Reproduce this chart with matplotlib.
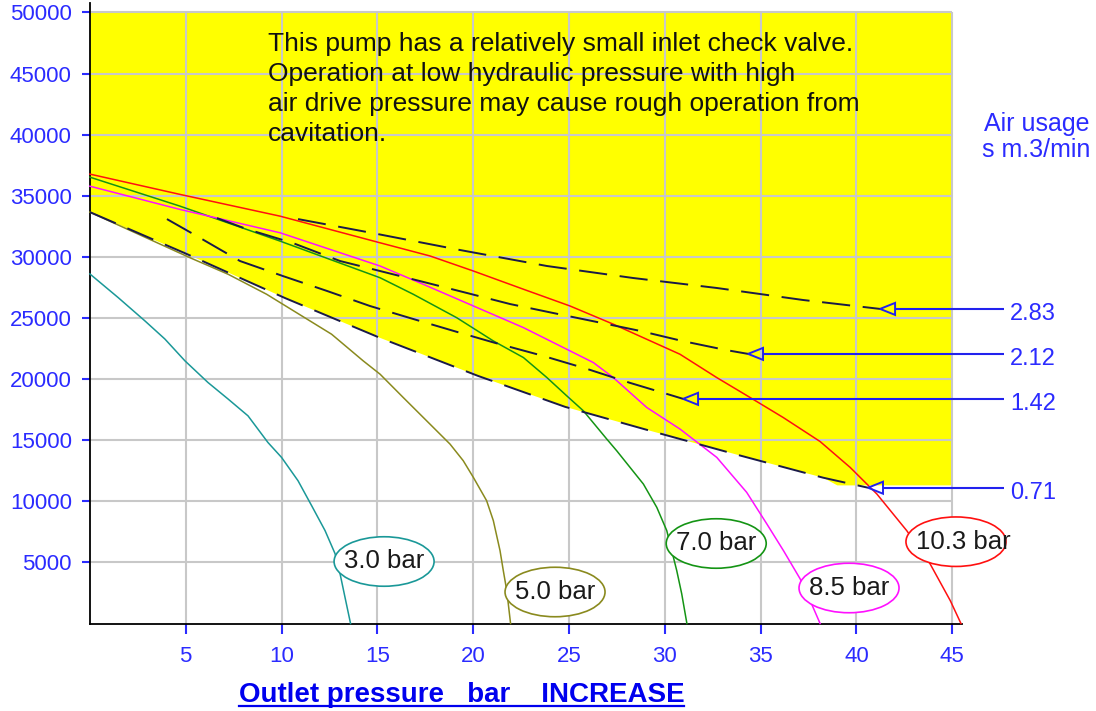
import matplotlib
matplotlib.use("Agg")
import matplotlib.pyplot as plt
from matplotlib.patches import Ellipse, Polygon
from matplotlib.lines import Line2D

plt.rcParams['font.family'] = ['Liberation Sans', 'DejaVu Sans']

# ---------------- data ----------------
x_ticks = [5, 10, 15, 20, 25, 30, 35, 40, 45]
y_ticks = [5000, 10000, 15000, 20000, 25000, 30000, 35000, 40000, 45000, 50000]

# pump curves: outlet pressure (bar) vs flow, for air drive pressures
p30_x = [0, 1.48, 2.87, 3.91, 4.96, 6.16, 7.20, 8.25, 9.29, 10.00, 10.86, 11.57, 12.27, 12.79, 13.05, 13.31, 13.6]
p30_y = [28600, 26660, 24760, 23280, 21490, 19720, 18380, 16990, 14810, 13590, 11680, 9640, 7600, 5720, 4090, 2150, 0]

p50_x = [0, 5.22, 7.22, 9.22, 12.61, 14.26, 15.14, 16.35, 17.92, 18.79, 19.48, 20.01, 20.70, 21.05, 21.40, 21.57, 21.75, 21.95]
p50_y = [33660, 29930, 28570, 26940, 23670, 21490, 20400, 18490, 16040, 14680, 13320, 11950, 10050, 8420, 5960, 4330, 2700, 0]

p70_x = [0, 4.70, 9.92, 15.14, 16.87, 19.14, 21.05, 22.62, 23.84, 24.88, 25.75, 26.97, 27.49, 28.88, 29.58, 30.10, 30.36, 30.62, 30.88, 31.15]
p70_y = [36520, 34150, 31290, 28290, 26940, 25020, 23120, 21760, 20130, 18630, 17400, 15090, 14130, 11410, 9500, 7600, 5960, 4330, 2430, 0]

p85_x = [0, 4.70, 9.92, 15.14, 17.40, 20.01, 22.62, 24.88, 26.27, 27.31, 29.06, 30.79, 32.71, 34.27, 35.32, 36.19, 37.06, 37.58, 38.1]
p85_y = [35780, 33880, 31970, 29250, 27750, 25980, 24210, 22440, 21350, 20120, 17670, 15910, 13590, 10730, 8150, 5960, 3650, 1880, 0]

p103_x = [0, 4.70, 9.92, 15.14, 17.75, 20.01, 22.62, 25.05, 27.31, 30.79, 32.71, 34.45, 36.18, 38.10, 39.67, 41.06, 42.62, 43.84, 44.89, 45.45]
p103_y = [36770, 35110, 33330, 31150, 30070, 28840, 27350, 25980, 24490, 22030, 20120, 18490, 16850, 14890, 12770, 10600, 7600, 4880, 1880, 0]

curve_labels = ['3.0 bar', '5.0 bar', '7.0 bar', '8.5 bar', '10.3 bar']

# air usage contours (s m3/min)
air_labels = ['2.83', '2.12', '1.42', '0.71']
air283_x = [10.86, 14.77, 19.31, 23.85, 28.34, 32.72, 37.21, 41.23]
air283_y = [33090, 31940, 30560, 29250, 28270, 27450, 26470, 25740]
air212_x = [6.63, 8.19, 10.59, 13.05, 15.14, 17.22, 19.68, 21.92, 24.16, 26.46, 28.71, 30.90, 33.14, 34.34]
air212_y = [33170, 32270, 31130, 29660, 28840, 28020, 27040, 26140, 25410, 24670, 23940, 23120, 22390, 22060]
air142_x = [4.02, 5.58, 7.83, 10.07, 12.37, 14.61, 16.86, 19.15, 21.14, 23.64, 25.94, 28.18, 30.43, 30.95]
air142_y = [33090, 31700, 29660, 28430, 27210, 25980, 24920, 23860, 22960, 21900, 20830, 19690, 18630, 18380]
air071_x = [0, 5.06, 10.18, 15.14, 20.25, 24.79, 29.23, 33.77, 38.26, 40.6]
air071_y = [33660, 30230, 26630, 23370, 20260, 17730, 15770, 13810, 11930, 11110]

# cavitation-risk (yellow) zone: lower boundary
zone_x = [0, 5.06, 10.18, 15.14, 20.25, 24.79, 29.23, 33.77, 38.26, 39.0, 45]
zone_y = [33660, 30230, 26630, 23370, 20260, 17730, 15770, 13810, 11930, 11300, 11300]

note_lines = ["This pump has a relatively small inlet check valve.",
              "Operation at low hydraulic pressure with high",
              "air drive pressure may cause rough operation from",
              "cavitation."]

# ---------------- layout ----------------
W, H = 1096, 711
PX_X = 19.165          # px per bar
fig = plt.figure(figsize=(W / 100, H / 100), dpi=100)
ax = fig.add_axes([89.9 / W, (H - 623.5) / H, 45.5 * PX_X / W, 620.5 / H])
ax.set_xlim(0, 45.5)
ax.set_ylim(0, 50770)
ax.set_facecolor('white')

# yellow zone
poly_x = zone_x + [45, 0]
poly_y = zone_y + [50000, 50000]
ax.fill(poly_x, poly_y, color='#ffff00', lw=0, zorder=1)

# grid
ax.vlines(x_ticks, 0, 50000, color='#c8c8c8', lw=1.5, zorder=1.5)
ax.hlines(y_ticks, 0, 45, color='#c8c8c8', lw=1.5, zorder=1.5)

# pump curves
curves = [(p30_x, p30_y, '#1a9898'), (p50_x, p50_y, '#8a8a1e'),
          (p70_x, p70_y, '#149414'), (p85_x, p85_y, '#ff10ff'),
          (p103_x, p103_y, '#ff1010')]
for cx, cy, col in curves:
    ax.plot(cx, cy, color=col, lw=1.1, zorder=3, clip_on=False)

# air usage contours
contours = [(air283_x, air283_y), (air212_x, air212_y), (air142_x, air142_y), (air071_x, air071_y)]
for (cx, cy), lab in zip(contours, air_labels):
    ax.plot(cx, cy, color='#1a1a48', lw=1.4, dashes=(14.5, 6.5), zorder=3.5)
    tx, ty = cx[-1], cy[-1]
    bw = 15 / PX_X
    bh = 6 * 81.82
    tri = Polygon([[tx, ty], [tx + bw, ty + bh], [tx + bw, ty - bh]], closed=True,
                  fc='none', ec='#2222ee', lw=1.4, zorder=4, clip_on=False)
    ax.add_patch(tri)
    ax.plot([tx + bw, (1004 - 89.9) / PX_X], [ty, ty], color='#2222ee', lw=1.5,
            zorder=4, clip_on=False, solid_capstyle='butt')
    ax.text((1010 - 89.9) / PX_X, ty - 11 * 81.82, lab, color='#2b2bff', fontsize=17,
            ha='left', va='baseline', clip_on=False)

# curve labels in ellipses
ell_cx = [15.35, 24.27, 32.68, 39.61, 45.19]
ell_cy = [5073, 2577, 6546, 2905, 6693]
ell_w = 100 / PX_X
ell_h = 49.5 * 81.82
for (cx, cy, col), lab, ex, ey in zip(curves, curve_labels, ell_cx, ell_cy):
    e = Ellipse((ex, ey), ell_w, ell_h, fc='white', ec=col, lw=1.2, zorder=5, clip_on=False)
    ax.add_patch(e)
    ax.text(ex - ell_w / 2 + 10 / PX_X, ey, lab, fontsize=18.5, color='#1a1a1a',
            ha='left', va='center', zorder=6, clip_on=False)

# axes styling
ax.set_xticks(x_ticks)
ax.set_yticks(y_ticks)
ax.set_xticklabels([str(v) for v in x_ticks])
ax.set_yticklabels([str(v) for v in y_ticks])
ax.tick_params(axis='both', color='#2b2bff', labelcolor='#2b2bff', labelsize=16, width=1.5)
ax.tick_params(axis='x', length=7.5, pad=9)
ax.tick_params(axis='y', length=6, pad=7)
for s in ['top', 'right']:
    ax.spines[s].set_visible(False)
for s in ['left', 'bottom']:
    ax.spines[s].set_color('black')
    ax.spines[s].set_linewidth(1.3)

# note text
for i, line in enumerate(note_lines):
    fig.text(268 / W, 1 - (51 + 30 * i) / H, line, fontsize=19, color='#111111',
             ha='left', va='baseline')

# air usage header
fig.text(1090 / W, 1 - 130.5 / H, 'Air usage', fontsize=18, color='#2b2bff', ha='right', va='baseline')
fig.text(1090 / W, 1 - 157 / H, 's m.3/min', fontsize=18, color='#2b2bff', ha='right', va='baseline')

# x label, underlined
xl = fig.text(461.5 / W, 1 - 702 / H, 'Outlet pressure   bar    INCREASE', fontsize=20,
              fontweight='bold', color='#0000ee', ha='center', va='baseline')
fig.canvas.draw()
bb = xl.get_window_extent(renderer=fig.canvas.get_renderer())
fig.add_artist(Line2D([bb.x0 / W, bb.x1 / W], [1 - 706 / H, 1 - 706 / H],
                      color='#0000ee', lw=1.6, transform=fig.transFigure))

fig.savefig('out.png', dpi=100)
